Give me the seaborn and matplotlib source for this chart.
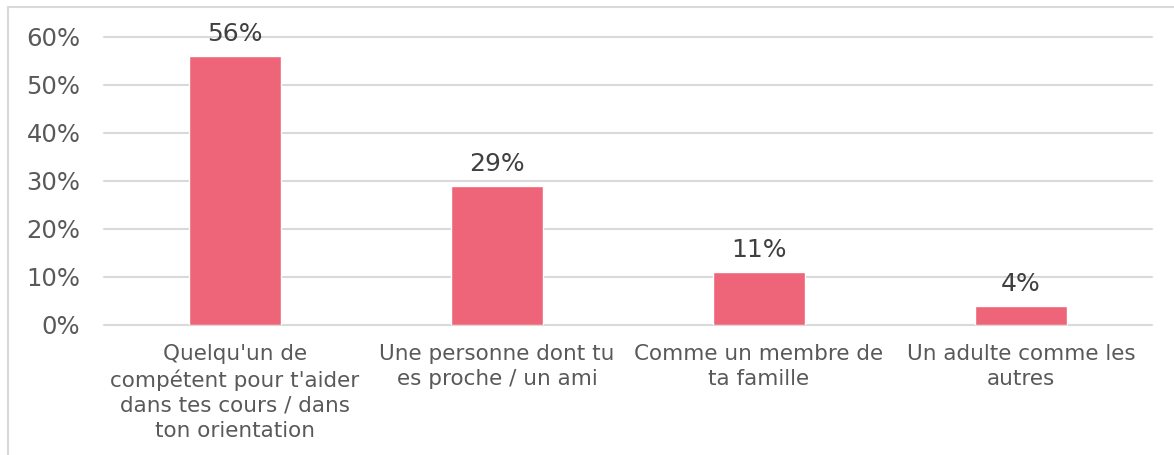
import pandas as pd
import seaborn as sns
import matplotlib.pyplot as plt
from matplotlib.patches import Rectangle
from matplotlib.ticker import PercentFormatter

categories = [
    "Quelqu'un de\ncompétent pour t'aider\ndans tes cours / dans\nton orientation",
    "Une personne dont tu\nes proche / un ami",
    "Comme un membre de\nta famille",
    "Un adulte comme les\nautres",
]
values = [0.56, 0.29, 0.11, 0.04]
value_labels = ["56%", "29%", "11%", "4%"]
y_ticks = [0, 0.1, 0.2, 0.3, 0.4, 0.5, 0.6]

df = pd.DataFrame({"cat": categories, "val": values})

sns.set_style("white")
plt.rcParams['font.family'] = ['DejaVu Sans']

fig = plt.figure(figsize=(11.74, 4.55), dpi=100)
W, H = 1174, 455
ax = fig.add_axes([104 / W, (H - 325) / H, (1152 - 104) / W, (325 - 37) / H])

# cadre du graphique
fig.patches.append(Rectangle((8 / W, -0.1), 1.1, (H - 7) / H + 0.1,
                             transform=fig.transFigure, fill=False,
                             edgecolor='#D9D9D9', linewidth=1.5))

sns.barplot(data=df, x="cat", y="val", color="#EE6478", saturation=1,
            width=0.35, ax=ax, zorder=3)

ax.set_ylim(0, 0.6)
ax.set_yticks(y_ticks)
ax.yaxis.set_major_formatter(PercentFormatter(1.0, decimals=0))
ax.grid(axis='y', color='#D9D9D9', linewidth=1.5, zorder=0)
for gl in ax.get_ygridlines():
    gl.set_clip_on(False)
ax.set_axisbelow(True)
for s in ax.spines.values():
    s.set_visible(False)
ax.tick_params(axis='y', length=0, pad=17, labelsize=17.5, labelcolor='#595959')
ax.tick_params(axis='x', length=0, pad=14, labelsize=15.5, labelcolor='#595959')
for t in ax.get_xticklabels():
    t.set_linespacing(1.3)
ax.set_xlabel("")
ax.set_ylabel("")

for i, (v, lab) in enumerate(zip(values, value_labels)):
    ax.annotate(lab, (i, v), xytext=(0, 7), textcoords='offset points',
                ha='center', va='bottom', fontsize=18, color='#404040',
                annotation_clip=False)

fig.savefig("out.png", dpi=100)
